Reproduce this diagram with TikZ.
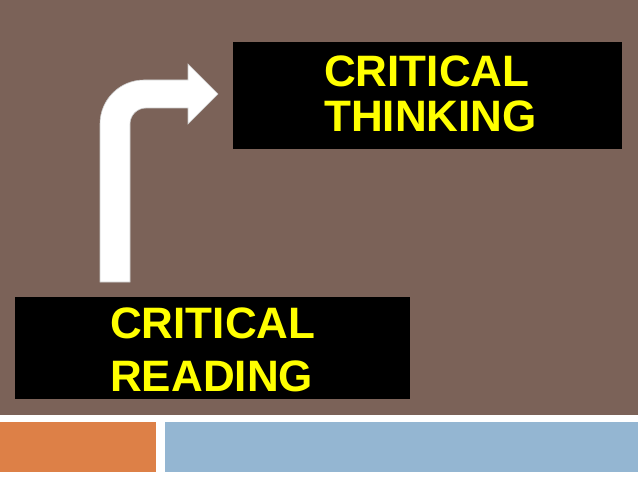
\documentclass[tikz,border=0pt]{standalone}
\usepackage{fontspec}
\setmainfont{Liberation Sans}
\usetikzlibrary{positioning,calc}

\definecolor{fondo}{HTML}{7B6258}
\definecolor{naranja}{HTML}{DD8047}
\definecolor{azul}{HTML}{94B6D2}
\definecolor{amarillo}{HTML}{FFFF00}

\tikzset{
  caja/.style={fill=black, inner sep=0pt, anchor=north west},
  titulo/.style={text=amarillo, inner sep=0pt, align=left},
  flecha/.style={fill=white, draw=black!20, line width=0.6bp}
}

\begin{document}
\begin{tikzpicture}[x=1bp, y=-1bp]

    % Dibujar el fondo y las barras de abajo
    \fill[white] (0,0) rectangle (638,479);
    \fill[fondo] (0,0) rectangle (638,415);
    \fill[naranja] (0,422) rectangle (156,472);
    \fill[azul] (165,422) rectangle (638,472);

    % Definir variables para la separacion
    \def\gap{15}

    % Dibujar las cajas negras
    \node[caja, minimum width=389bp, minimum height=107bp] (pensar) at (233,42) {};
    \node[caja, minimum width=395bp, minimum height=102bp] (leer) at (15,297) {};

    % Dibujar los textos amarillos
    \node[titulo, font=\bfseries\fontsize{44bp}{45bp}\selectfont, right=91bp of pensar.west, yshift=1.5bp]
      (textopensar) {CRITICAL\\THINKING};
    \node[titulo, font=\bfseries\fontsize{44bp}{53bp}\selectfont, right=95bp of leer.west, yshift=-1.5bp]
      (textoleer) {CRITICAL\\READING};

    % Dibujar la flecha doblada de leer a pensar
    \coordinate (cola) at ($(leer.north west)+(85,-\gap)$);
    \filldraw[flecha] (cola) -- ++(0,-158)
      arc[start angle=180, end angle=270, radius=44]
      -- ++(44,0) -- ++(0,-16) -- ++(30,30) coordinate (punta)
      -- ++(-30,30) -- ++(0,-16) -- ++(-42,0)
      arc[start angle=270, end angle=180, radius=16]
      -- ++(0,158) -- cycle;

\end{tikzpicture}
\end{document}
